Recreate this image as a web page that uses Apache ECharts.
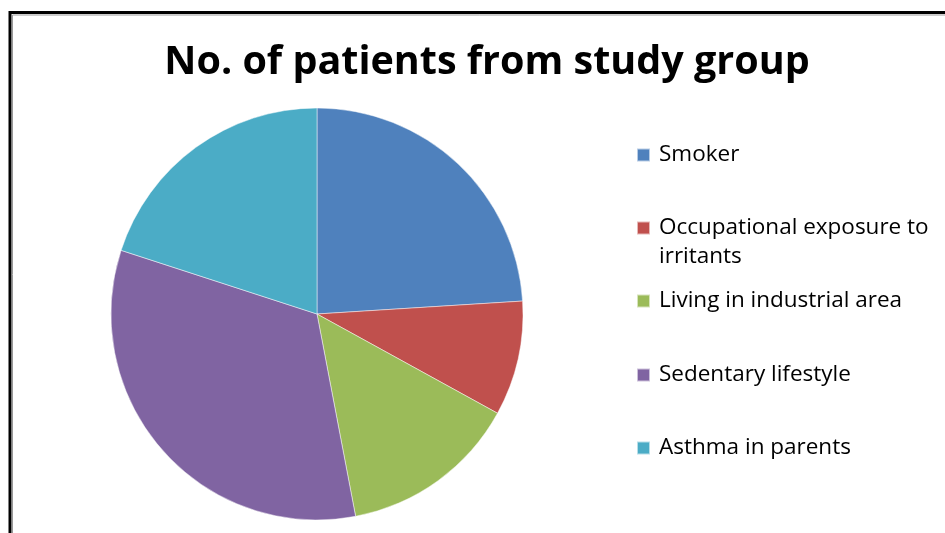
<!DOCTYPE html>
<html>
<head>
<meta charset="utf-8">
<script src="https://cdn.jsdelivr.net/npm/echarts@6/dist/echarts.min.js"></script>
<style>
html,body{margin:0;padding:0;background:#fff;}
#chart{width:945px;height:533px;}
</style>
</head>
<body>
<div id="chart"></div>
<script>
const titleText = 'No. of patients from study group';
const categories = ['Smoker', 'Occupational exposure to irritants', 'Living in industrial area', 'Sedentary lifestyle', 'Asthma in parents'];
const values = [24, 9, 14, 33, 20];
const colors = ['#4F81BD', '#C0504D', '#9BBB59', '#8064A2', '#4BACC6'];
const legendCenters = [153, 226, 299, 373, 446];

const chart = echarts.init(document.getElementById('chart'), null, {renderer: 'canvas'});
const FONT = 'Open Sans';
const LH = 29;

const legends = categories.map((name, i) => {
  const multi = name.length > 26;
  return {
    data: [name],
    left: 631,
    top: (multi ? legendCenters[i] - LH * 1.5 : legendCenters[i] - LH / 2) - 3,
    orient: 'vertical',
    icon: 'rect',
    itemWidth: 13,
    itemHeight: 13,
    formatter: multi ? function (n) { return '\nOccupational exposure to\nirritants'; } : undefined,
    textStyle: {
      fontFamily: FONT,
      fontSize: 22.5,
      color: '#000',
      lineHeight: LH,
      padding: [0, 0, 0, 4]
    }
  };
});

chart.setOption({
  animation: false,
  backgroundColor: '#fff',
  title: {
    text: titleText,
    left: 482,
    textAlign: 'center',
    top: 38,
    textStyle: {fontFamily: FONT, fontWeight: 'bold', fontSize: 39.5, color: '#000'}
  },
  legend: legends,
  graphic: [
    {type: 'rect', shape: {x: 10, y: 12.5, width: 1000, height: 600}, style: {fill: 'none', stroke: '#000', lineWidth: 3}, silent: true},
    {type: 'rect', shape: {x: 12.5, y: 15, width: 1000, height: 600}, style: {fill: 'none', stroke: '#999', lineWidth: 1}, silent: true}
  ],
  series: [{
    type: 'pie',
    center: [317, 314],
    radius: [0, 206],
    startAngle: 90,
    clockwise: true,
    label: {show: false},
    labelLine: {show: false},
    emphasis: {scale: false},
    itemStyle: {borderColor: 'rgba(255,255,255,0.6)', borderWidth: 0.8},
    data: categories.map((c, i) => ({name: c, value: values[i], itemStyle: {color: colors[i]}}))
  }]
});
</script>
</body>
</html>
